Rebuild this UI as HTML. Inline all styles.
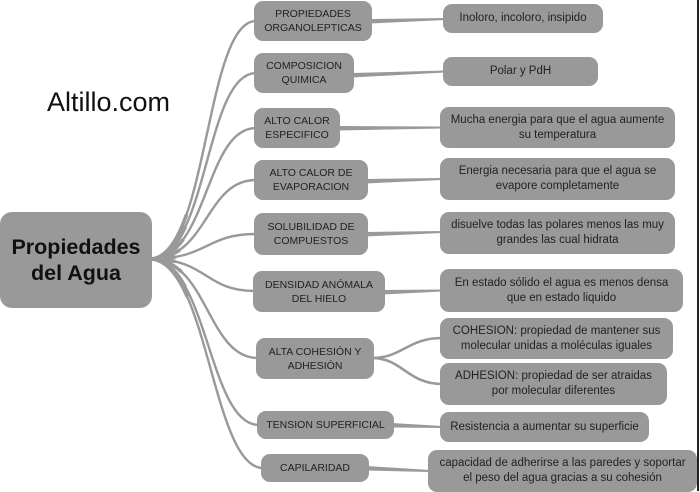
<!DOCTYPE html>
<html><head><meta charset="utf-8"><style>
html,body{margin:0;padding:0;}
body{width:700px;height:491px;position:relative;overflow:hidden;background:#fff;font-family:"Liberation Sans",Arial,sans-serif;}
.b{position:absolute;background:#999;border-radius:9px;display:flex;align-items:center;justify-content:center;text-align:center;color:#222;white-space:nowrap;}
.c{font-size:10.5px;line-height:14px;}
.d{font-size:11.5px;line-height:15px;}
svg{position:absolute;left:0;top:0;}
</style></head><body>
<svg width="700" height="491" viewBox="0 0 700 491">
<g fill="none" stroke="#999" stroke-width="2.4" stroke-linecap="round">
<path d="M150,259 C208,259 205,21 256,21"/>
<path d="M150,259 C208,259 205,73 256,73"/>
<path d="M150,259 C208,259 205,128 256,128"/>
<path d="M150,259 C208,259 205,180 256,180"/>
<path d="M150,259 C208,259 205,234 256,234"/>
<path d="M150,259 C208,259 204,291 255,291"/>
<path d="M150,259 C208,259 207,358 258,358"/>
<path d="M150,259 C208,259 208,425 259,425"/>
<path d="M150,259 C208,259 212,468 263,468"/>
</g>
<g fill="none" stroke="#999" stroke-width="3.6" stroke-linecap="round" stroke-dasharray="0.22 2">
<path pathLength="1" d="M150,259 C208,259 205,21 256,21"/>
<path pathLength="1" d="M150,259 C208,259 205,73 256,73"/>
<path pathLength="1" d="M150,259 C208,259 205,128 256,128"/>
<path pathLength="1" d="M150,259 C208,259 205,180 256,180"/>
<path pathLength="1" d="M150,259 C208,259 205,234 256,234"/>
<path pathLength="1" d="M150,259 C208,259 204,291 255,291"/>
<path pathLength="1" d="M150,259 C208,259 207,358 258,358"/>
<path pathLength="1" d="M150,259 C208,259 208,425 259,425"/>
<path pathLength="1" d="M150,259 C208,259 212,468 263,468"/>
</g>
<g fill="#999">
<polygon points="370,19 370,23.5 445,20 445,18"/>
<polygon points="352,73 352,77.5 445,72.5 445,70.5"/>
<polygon points="338,126 338,130.5 442,128.5 442,126.5"/>
<polygon points="366,179 366,183.5 442,180 442,178"/>
<polygon points="366,232 366,236.5 442,233 442,231"/>
<polygon points="383,290 383,294.5 442,291.5 442,289.5"/>
<polygon points="392,423 392,427.5 442,428 442,426"/>
<polygon points="367,466 367,470.5 430,472 430,470"/>
</g>
<g fill="none" stroke="#999" stroke-width="2.6">
<path d="M372,358 C402,358 408,338 442,338"/>
<path d="M372,358 C402,358 408,384 442,384"/>
</g>
</svg>

<div style="position:absolute;left:47px;top:89px;font-size:27px;line-height:27px;color:#111;font-family:'Liberation Sans',Arial,sans-serif;">Altillo.com</div>

<div class="b" style="left:0;top:212px;width:152px;height:96px;border-radius:12px;font-weight:bold;font-size:21.5px;line-height:26px;color:#111;">Propiedades<br>del Agua</div>

<div class="b c" style="left:254px;top:1px;width:118px;height:40px;">PROPIEDADES<br>ORGANOLEPTICAS</div>
<div class="b c" style="left:254px;top:53px;width:100px;height:40px;">COMPOSICION<br>QUIMICA</div>
<div class="b c" style="left:254px;top:108px;width:86px;height:40px;">ALTO CALOR<br>ESPECIFICO</div>
<div class="b c" style="left:254px;top:160px;width:114px;height:40px;">ALTO CALOR DE<br>EVAPORACION</div>
<div class="b c" style="left:254px;top:213px;width:114px;height:42px;">SOLUBILIDAD DE<br>COMPUESTOS</div>
<div class="b c" style="left:253px;top:271px;width:132px;height:41px;">DENSIDAD ANÓMALA<br>DEL HIELO</div>
<div class="b c" style="left:256px;top:338px;width:118px;height:41px;">ALTA COHESIÓN Y<br>ADHESIÓN</div>
<div class="b c" style="left:257px;top:411px;width:137px;height:28px;">TENSION SUPERFICIAL</div>
<div class="b c" style="left:261px;top:454px;width:108px;height:28px;">CAPILARIDAD</div>

<div class="b d" style="left:443px;top:4px;width:160px;height:29px;">Inoloro, incoloro, insipido</div>
<div class="b d" style="left:443px;top:57px;width:155px;height:29px;">Polar y PdH</div>
<div class="b d" style="left:440px;top:107px;width:235px;height:41px;">Mucha energia para que el agua aumente<br>su temperatura</div>
<div class="b d" style="left:440px;top:158px;width:235px;height:42px;">Energia necesaria para que el agua se<br>evapore completamente</div>
<div class="b d" style="left:440px;top:212px;width:235px;height:42px;">disuelve todas las polares menos las muy<br>grandes las cual hidrata</div>
<div class="b d" style="left:440px;top:269px;width:243px;height:43px;">En estado sólido el agua es menos densa<br>que en estado liquido</div>
<div class="b d" style="left:440px;top:318px;width:233px;height:41px;">COHESION: propiedad de mantener sus<br>molecular unidas a moléculas iguales</div>
<div class="b d" style="left:440px;top:363px;width:227px;height:42px;">ADHESION: propiedad de ser atraidas<br>por molecular diferentes</div>
<div class="b d" style="left:440px;top:412px;width:209px;height:30px;">Resistencia a aumentar su superficie</div>
<div class="b d" style="left:428px;top:450px;width:269px;height:42px;">capacidad de adherirse a las paredes y soportar<br>el peso del agua gracias a su cohesión</div>

<div style="position:absolute;left:697px;top:0;width:2px;height:491px;background:#222;"></div>
</body></html>
